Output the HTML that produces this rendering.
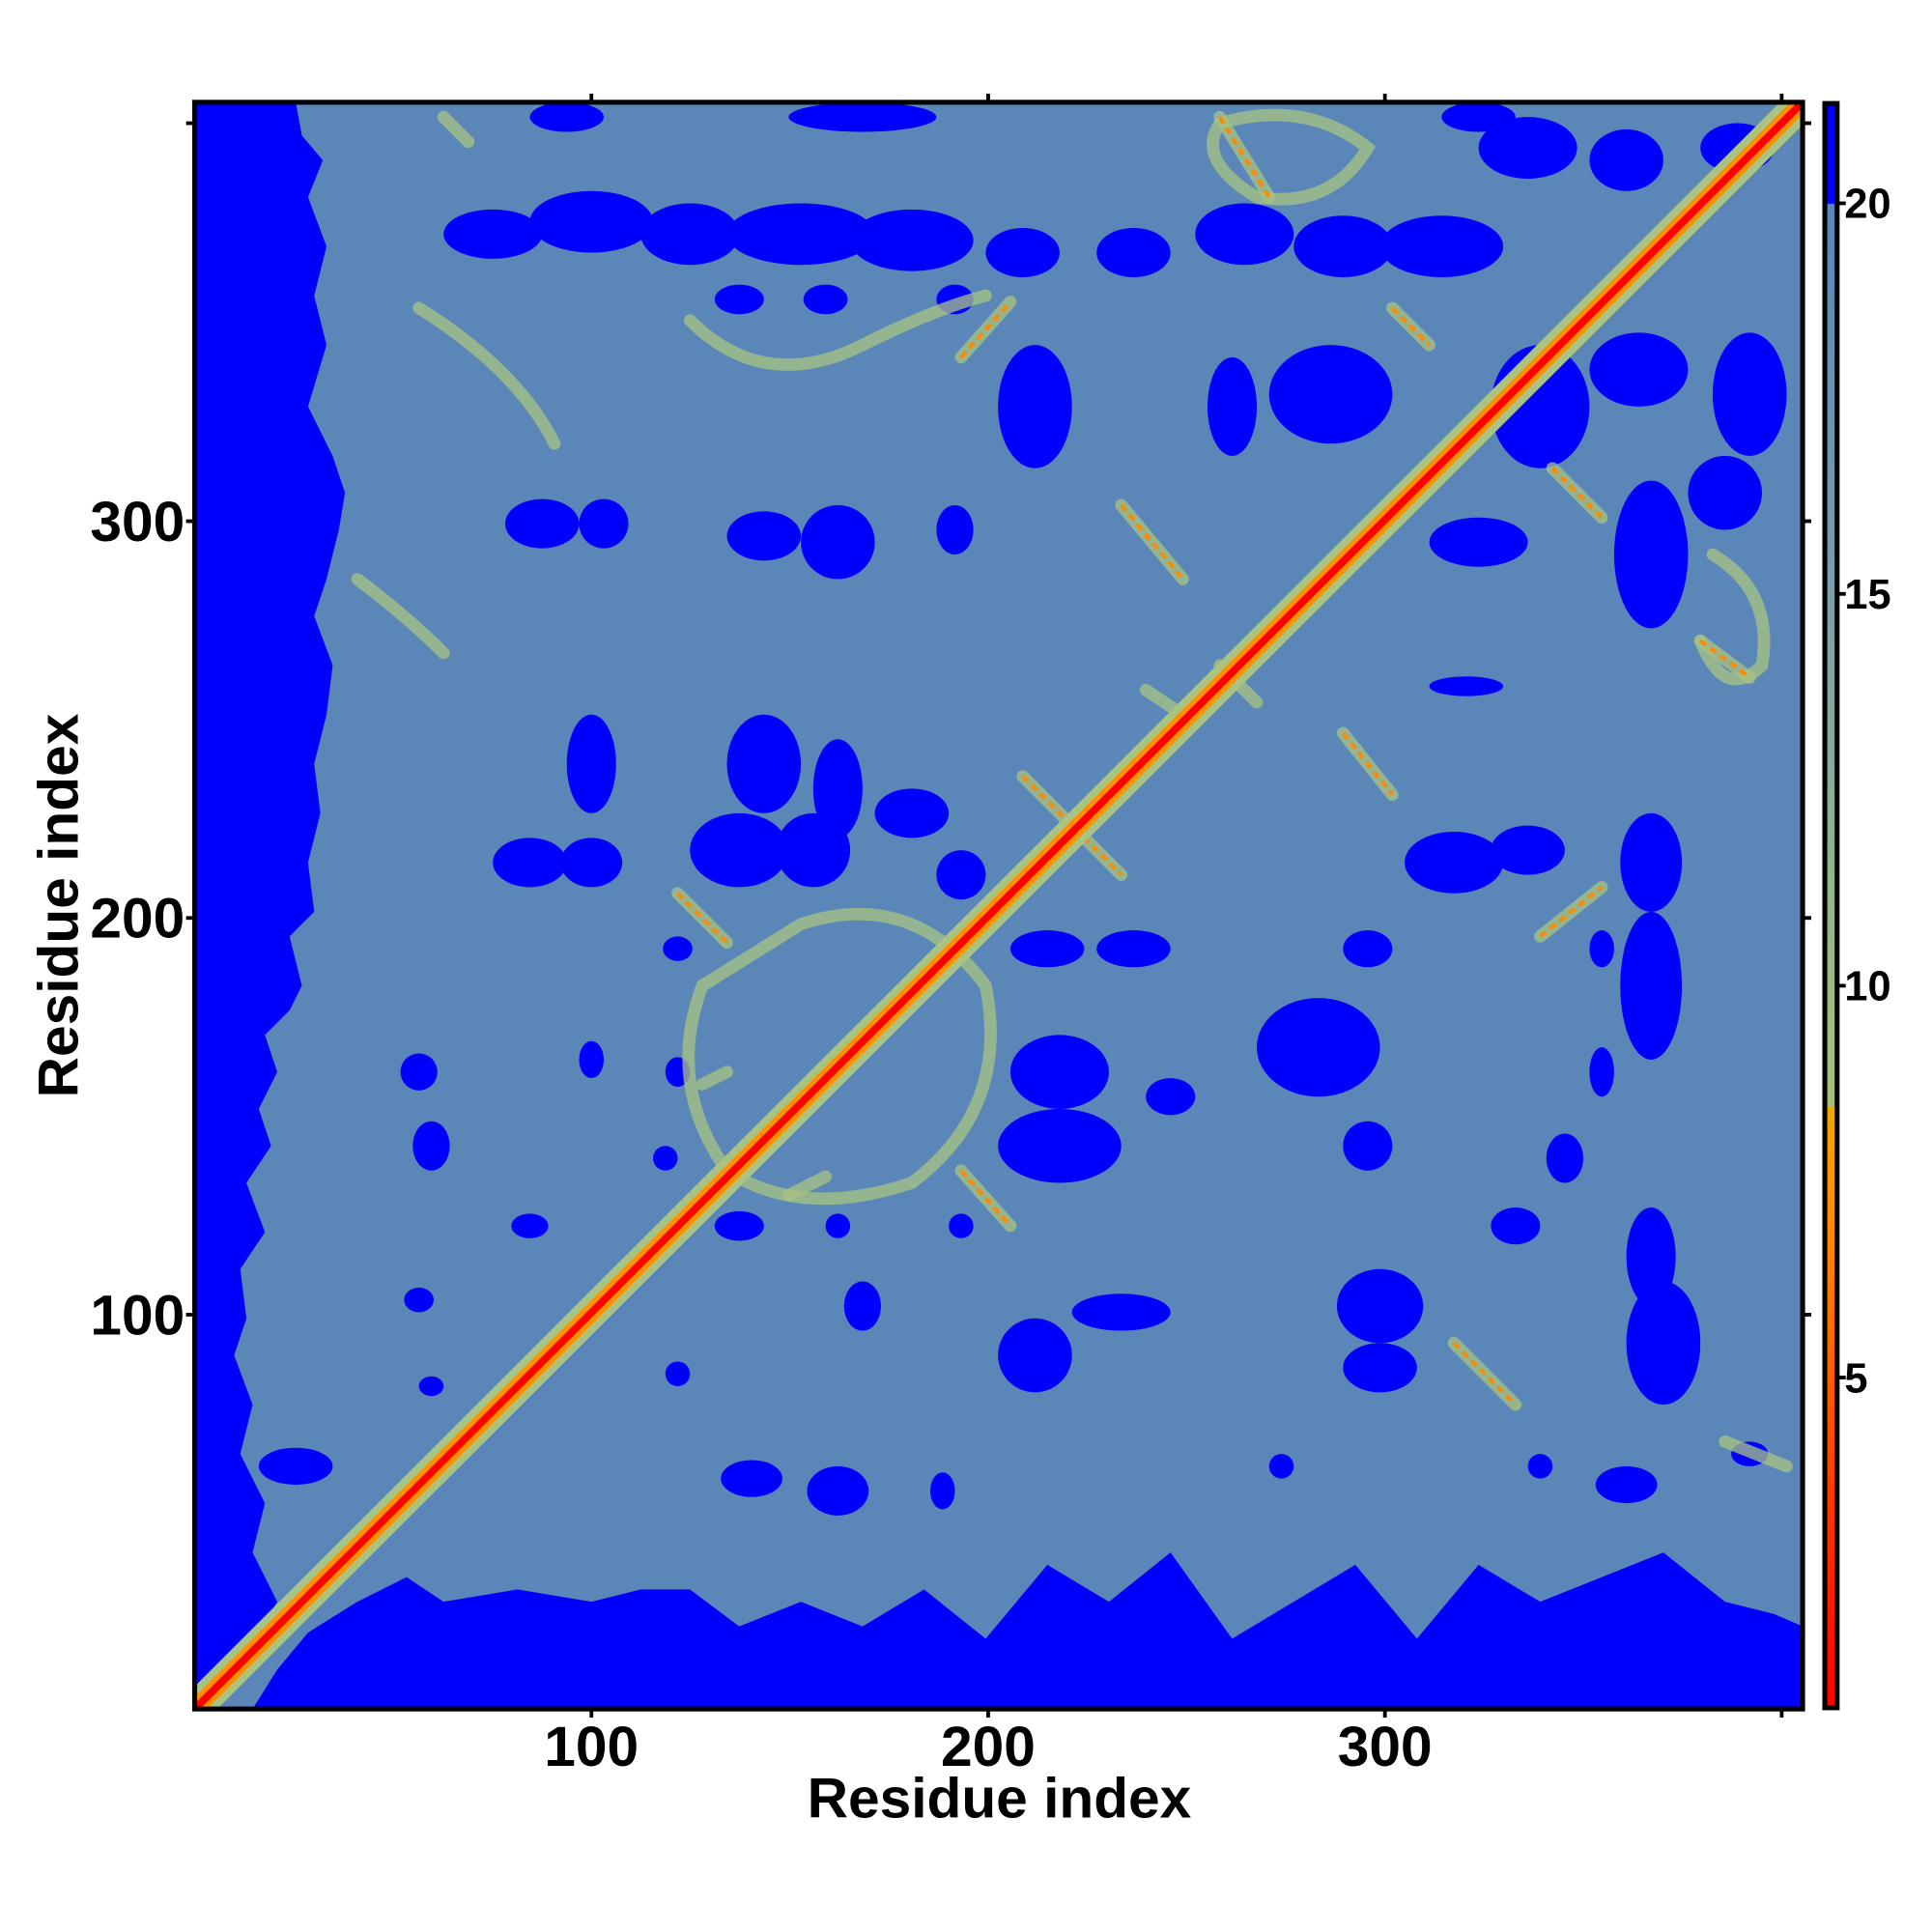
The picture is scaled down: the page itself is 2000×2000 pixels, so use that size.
<!DOCTYPE html>
<html><head><meta charset="utf-8"><style>
html,body{margin:0;padding:0;background:#fff;}
svg{display:block;}
text{font-family:"Liberation Sans",sans-serif;font-weight:bold;fill:#000;}
</style></head><body>
<svg width="2000" height="2000" viewBox="0 0 1568 1568" xmlns="http://www.w3.org/2000/svg">
<defs>
<linearGradient id="cb" x1="0" y1="0" x2="0" y2="1">
<stop offset="0" stop-color="#0000ff"/>
<stop offset="0.062" stop-color="#0000ff"/>
<stop offset="0.063" stop-color="#5a86b8"/>
<stop offset="0.3" stop-color="#7a9eab"/>
<stop offset="0.55" stop-color="#9dbb84"/>
<stop offset="0.625" stop-color="#a7c07c"/>
<stop offset="0.626" stop-color="#f2a800"/>
<stop offset="0.7" stop-color="#ff8a00"/>
<stop offset="0.8" stop-color="#ff5a00"/>
<stop offset="0.9" stop-color="#ff2a00"/>
<stop offset="1" stop-color="#ff0000"/>
</linearGradient>
<clipPath id="pc"><rect x="158" y="83" width="1305" height="1304"/></clipPath>
</defs>
<g clip-path="url(#pc)">
<rect x="158" y="83" width="1305" height="1304" fill="#0000ff"/>
<polygon fill="#5a87b8" points="240,83 245,110 262,130 250,160 265,200 255,240 265,280 250,330 270,370 280,400 275,430 265,470 255,500 270,540 265,580 255,620 260,660 250,700 255,740 235,760 245,800 235,820 215,840 225,870 210,900 220,930 200,960 215,1000 195,1030 200,1070 190,1100 205,1140 195,1180 215,1220 205,1260 225,1300 200,1340 180,1370 165,1387 205,1387 225,1355 250,1325 290,1300 330,1280 360,1300 420,1290 480,1300 520,1290 560,1290 600,1320 650,1300 700,1320 750,1290 800,1330 850,1270 900,1300 950,1260 1000,1330 1050,1300 1100,1270 1150,1330 1200,1270 1250,1300 1300,1280 1350,1260 1400,1300 1440,1310 1463,1320 1463,83"/>
<g fill="#0000ff">
<ellipse cx="400" cy="190" rx="40" ry="20"/><ellipse cx="480" cy="180" rx="50" ry="25"/><ellipse cx="560" cy="190" rx="40" ry="25"/><ellipse cx="650" cy="190" rx="60" ry="25"/><ellipse cx="740" cy="195" rx="50" ry="25"/><ellipse cx="830" cy="205" rx="30" ry="20"/><ellipse cx="920" cy="205" rx="30" ry="20"/><ellipse cx="1010" cy="190" rx="40" ry="25"/><ellipse cx="1090" cy="200" rx="40" ry="25"/><ellipse cx="1170" cy="200" rx="50" ry="25"/><ellipse cx="1240" cy="120" rx="40" ry="25"/><ellipse cx="1320" cy="130" rx="30" ry="25"/><ellipse cx="1410" cy="120" rx="30" ry="20"/><ellipse cx="700" cy="95" rx="60" ry="12"/><ellipse cx="460" cy="95" rx="30" ry="12"/><ellipse cx="1200" cy="95" rx="30" ry="12"/>
<ellipse cx="600" cy="243" rx="20" ry="12"/><ellipse cx="670" cy="243" rx="18" ry="12"/><ellipse cx="775" cy="243" rx="15" ry="12"/><ellipse cx="840" cy="330" rx="30" ry="50"/><ellipse cx="1080" cy="320" rx="50" ry="40"/><ellipse cx="1000" cy="330" rx="20" ry="40"/><ellipse cx="1250" cy="330" rx="40" ry="50"/><ellipse cx="1330" cy="300" rx="40" ry="30"/><ellipse cx="1420" cy="320" rx="30" ry="50"/><ellipse cx="440" cy="425" rx="30" ry="20"/><ellipse cx="490" cy="425" rx="20" ry="20"/><ellipse cx="620" cy="435" rx="30" ry="20"/><ellipse cx="680" cy="440" rx="30" ry="30"/><ellipse cx="775" cy="430" rx="15" ry="20"/><ellipse cx="1200" cy="440" rx="40" ry="20"/><ellipse cx="1340" cy="450" rx="30" ry="60"/><ellipse cx="1400" cy="400" rx="30" ry="30"/><ellipse cx="480" cy="620" rx="20" ry="40"/><ellipse cx="620" cy="620" rx="30" ry="40"/><ellipse cx="680" cy="640" rx="20" ry="40"/><ellipse cx="430" cy="700" rx="30" ry="20"/><ellipse cx="480" cy="700" rx="25" ry="20"/><ellipse cx="600" cy="690" rx="40" ry="30"/><ellipse cx="660" cy="690" rx="30" ry="30"/><ellipse cx="740" cy="660" rx="30" ry="20"/><ellipse cx="780" cy="710" rx="20" ry="20"/><ellipse cx="1190" cy="557" rx="30" ry="8"/><ellipse cx="1180" cy="700" rx="40" ry="25"/><ellipse cx="1240" cy="690" rx="30" ry="20"/><ellipse cx="1340" cy="700" rx="25" ry="40"/><ellipse cx="1340" cy="800" rx="25" ry="60"/><ellipse cx="1300" cy="770" rx="10" ry="15"/><ellipse cx="850" cy="770" rx="30" ry="15"/><ellipse cx="920" cy="770" rx="30" ry="15"/><ellipse cx="1110" cy="770" rx="20" ry="15"/><ellipse cx="550" cy="770" rx="12" ry="10"/><ellipse cx="1070" cy="850" rx="50" ry="40"/><ellipse cx="860" cy="870" rx="40" ry="30"/><ellipse cx="950" cy="890" rx="20" ry="15"/><ellipse cx="1300" cy="870" rx="10" ry="20"/><ellipse cx="340" cy="870" rx="15" ry="15"/><ellipse cx="480" cy="860" rx="10" ry="15"/><ellipse cx="550" cy="870" rx="10" ry="12"/><ellipse cx="350" cy="930" rx="15" ry="20"/><ellipse cx="540" cy="940" rx="10" ry="10"/><ellipse cx="860" cy="930" rx="50" ry="30"/><ellipse cx="1110" cy="930" rx="20" ry="20"/><ellipse cx="1270" cy="940" rx="15" ry="20"/><ellipse cx="430" cy="995" rx="15" ry="10"/><ellipse cx="600" cy="995" rx="20" ry="12"/><ellipse cx="680" cy="995" rx="10" ry="10"/><ellipse cx="780" cy="995" rx="10" ry="10"/><ellipse cx="1230" cy="995" rx="20" ry="15"/><ellipse cx="1340" cy="1020" rx="20" ry="40"/><ellipse cx="1350" cy="1090" rx="30" ry="50"/><ellipse cx="340" cy="1055" rx="12" ry="10"/><ellipse cx="700" cy="1060" rx="15" ry="20"/><ellipse cx="910" cy="1065" rx="40" ry="15"/><ellipse cx="1120" cy="1060" rx="35" ry="30"/><ellipse cx="840" cy="1100" rx="30" ry="30"/><ellipse cx="1120" cy="1110" rx="30" ry="20"/><ellipse cx="550" cy="1115" rx="10" ry="10"/><ellipse cx="350" cy="1125" rx="10" ry="8"/><ellipse cx="610" cy="1200" rx="25" ry="15"/><ellipse cx="680" cy="1210" rx="25" ry="20"/><ellipse cx="765" cy="1210" rx="10" ry="15"/><ellipse cx="1320" cy="1205" rx="25" ry="15"/><ellipse cx="1420" cy="1180" rx="15" ry="10"/><ellipse cx="240" cy="1190" rx="30" ry="15"/><ellipse cx="1250" cy="1190" rx="10" ry="10"/><ellipse cx="1040" cy="1190" rx="10" ry="10"/>
</g>
<g fill="none" stroke="#a9c383" stroke-width="10" stroke-opacity="0.75" stroke-linecap="round">
<path d="M550,725 L590,765"/><path d="M780,950 L820,995"/><path d="M990,95 L1030,160"/><path d="M910,410 L960,470"/><path d="M830,630 L910,710"/><path d="M1090,595 L1130,645"/><path d="M1130,250 L1160,280"/><path d="M1260,380 L1300,420"/><path d="M1380,520 L1420,550"/><path d="M1180,1090 L1230,1140"/><path d="M1400,1170 L1450,1190"/><path d="M360,95 L380,115"/><path d="M780,290 L820,245"/><path d="M1250,760 L1300,720"/><path d="M640,970 L670,955"/><path d="M570,880 L590,870"/><path d="M1020,570 L990,540"/><path d="M960,580 L930,560"/>
<path d="M650,750 Q740,720 800,800 Q820,900 740,960 Q650,990 590,950 Q540,880 570,800 Z"/>
<path d="M990,100 Q1060,80 1110,120 Q1080,170 1020,160 Q970,130 990,100Z"/>
<path d="M340,250 Q420,300 450,360"/><path d="M560,260 Q620,320 700,280 Q760,250 800,240"/>
<path d="M290,470 Q330,500 360,530"/><path d="M1390,450 Q1440,480 1430,540 Q1400,570 1380,520"/>
</g>
<g fill="none" stroke="#ff8a00" stroke-width="3" stroke-dasharray="6 4">
<path d="M550,725 L590,765"/><path d="M780,950 L820,995"/><path d="M990,95 L1030,160"/><path d="M910,410 L960,470"/><path d="M830,630 L910,710"/><path d="M1090,595 L1130,645"/><path d="M1130,250 L1160,280"/><path d="M1260,380 L1300,420"/><path d="M1380,520 L1420,550"/><path d="M1180,1090 L1230,1140"/><path d="M780,290 L820,245"/><path d="M1250,760 L1300,720"/>
</g>
<line x1="158" y1="1387" x2="1463" y2="83" stroke="#a9c383" stroke-width="26"/>
<line x1="158" y1="1387" x2="1463" y2="83" stroke="#ff9000" stroke-width="14"/>
<line x1="158" y1="1387" x2="1463" y2="83" stroke="#ff0000" stroke-width="6"/>
</g>
<rect x="158" y="83" width="1305" height="1304" fill="none" stroke="#000" stroke-width="4"/>
<g stroke="#000" stroke-width="3">
<line x1="480" y1="1387" x2="480" y2="1394"/><line x1="802" y1="1387" x2="802" y2="1394"/><line x1="1124" y1="1387" x2="1124" y2="1394"/><line x1="1446" y1="1387" x2="1446" y2="1394"/>
<line x1="480" y1="83" x2="480" y2="76"/><line x1="802" y1="83" x2="802" y2="76"/><line x1="1124" y1="83" x2="1124" y2="76"/><line x1="1446" y1="83" x2="1446" y2="76"/>
<line x1="158" y1="423" x2="151" y2="423"/><line x1="158" y1="745" x2="151" y2="745"/><line x1="158" y1="1067" x2="151" y2="1067"/><line x1="158" y1="100" x2="151" y2="100"/>
<line x1="1463" y1="423" x2="1470" y2="423"/><line x1="1463" y1="745" x2="1470" y2="745"/><line x1="1463" y1="1067" x2="1470" y2="1067"/><line x1="1463" y1="100" x2="1470" y2="100"/>
</g>
<rect x="1481" y="84" width="10" height="1302" fill="url(#cb)" stroke="#000" stroke-width="4"/>
<g stroke="#000" stroke-width="3">
<line x1="1491" y1="165" x2="1498" y2="165"/><line x1="1491" y1="482" x2="1498" y2="482"/><line x1="1491" y1="800" x2="1498" y2="800"/><line x1="1491" y1="1118" x2="1498" y2="1118"/>
</g>
<g font-size="34">
<text x="1497" y="177">20</text><text x="1497" y="494">15</text><text x="1497" y="812">10</text><text x="1497" y="1130">5</text>
</g>
<g font-size="46" text-anchor="middle">
<text x="480" y="1433">100</text><text x="802" y="1433">200</text><text x="1124" y="1433">300</text>
<text x="811" y="1475">Residue index</text>
</g>
<g font-size="46" text-anchor="end">
<text x="150" y="439">300</text><text x="150" y="761">200</text><text x="150" y="1083">100</text>
</g>
<text font-size="46" text-anchor="middle" transform="translate(63,735) rotate(-90)">Residue index</text>
</svg>
</body></html>
